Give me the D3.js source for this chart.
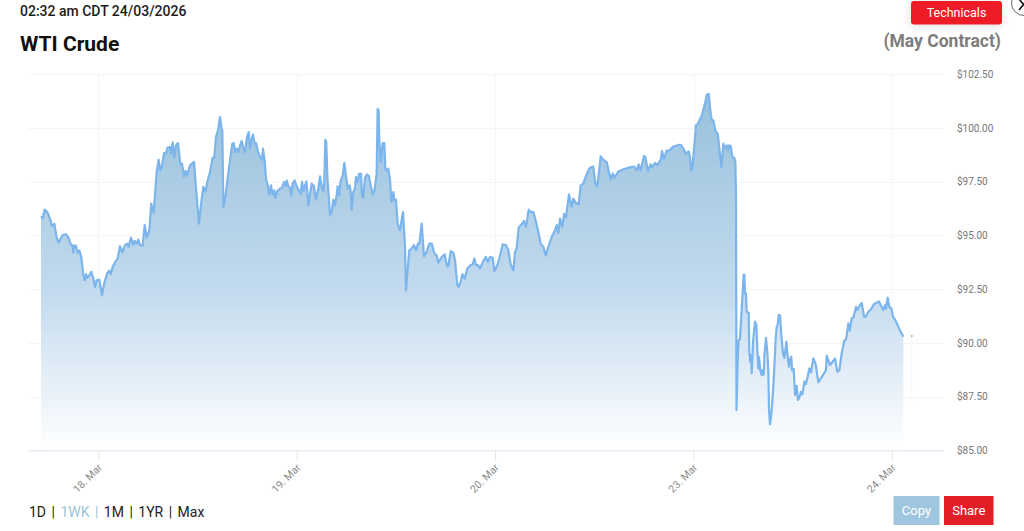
<!DOCTYPE html>
<html>
<head>
<meta charset="utf-8">
<script src="https://cdn.jsdelivr.net/npm/d3@7"></script>
<style>
  html, body { margin: 0; padding: 0; background: #fff; overflow: hidden; }
  svg { display: block; font-family: Roboto, sans-serif; }
</style>
</head>
<body>
<div id="my_dataviz"></div>
<script>
// hours of trading time counted from the 18. Mar tick (one session = 24)
var hours = [
  -6.93,-6.73,-6.49,-6.25,-6.04,-5.76,-5.60,-5.32,-5.04,-4.79,-4.55,-4.31,-3.91,-3.62,-3.34,-3.14,-3.02,-2.90,-2.70,-2.50,
  -2.29,-2.05,-1.81,-1.65,-1.49,-1.33,-1.08,-0.84,-0.60,-0.40,-0.20,0.12,0.45,0.69,1.09,1.33,1.50,1.74,2.06,2.34,
  2.62,2.91,3.23,3.51,3.67,3.95,4.24,4.40,4.64,4.84,5.04,5.37,5.61,5.85,6.17,6.41,6.70,7.06,7.30,7.50,
  7.70,7.95,8.19,8.35,8.67,8.79,9.00,9.20,9.40,9.64,9.92,10.12,10.37,10.53,10.73,11.09,11.58,11.82,12.18,12.42,
  12.70,12.95,13.19,13.51,13.83,14.03,14.24,14.48,14.72,14.92,15.00,15.13,15.37,15.61,15.85,16.09,16.21,16.37,16.58,16.74,
  16.94,17.14,17.34,17.54,17.75,17.99,18.19,18.35,18.51,18.71,18.92,19.08,19.32,19.56,19.80,19.92,20.12,20.29,20.49,20.69,
  20.89,21.09,21.29,21.42,21.66,21.98,22.22,22.46,22.62,22.79,22.99,23.19,23.35,23.51,23.75,23.99,24.24,24.48,24.64,24.84,
  25.00,25.17,25.29,25.41,25.61,25.81,26.09,26.33,26.58,26.82,27.02,27.22,27.34,27.46,27.58,27.71,27.91,28.03,28.23,28.43,
  28.63,28.83,28.95,29.12,29.32,29.56,29.76,29.96,30.16,30.41,30.53,30.65,30.85,31.05,31.17,31.37,31.54,31.78,31.90,32.06,
  32.26,32.50,32.75,32.95,33.19,33.43,33.67,33.79,33.91,33.99,34.16,34.40,34.60,34.72,34.88,35.08,35.29,35.45,35.69,35.81,
  36.01,36.21,36.49,36.66,36.86,37.10,37.22,37.38,37.62,37.71,38.19,38.43,38.67,38.83,39.12,39.40,39.72,40.04,40.33,40.65,
  40.93,41.13,41.54,41.90,42.18,42.34,42.63,42.95,43.15,43.43,43.59,43.83,44.04,44.32,44.64,45.04,45.29,45.49,45.69,45.93,
  46.17,46.58,46.90,47.10,47.38,47.71,47.91,48.27,48.51,48.92,49.32,49.60,49.88,50.21,50.41,50.61,50.85,51.21,51.50,51.74,
  52.06,52.30,52.63,52.95,53.27,53.51,53.84,54.12,54.44,54.84,55.25,55.45,55.65,55.85,56.13,56.34,56.58,56.94,57.26,57.46,
  57.79,58.11,58.35,58.67,58.87,59.28,59.48,59.88,60.12,60.37,60.77,61.09,61.50,61.98,62.22,62.46,62.91,63.51,64.32,64.80,
  65.12,65.36,65.61,66.01,66.17,66.50,66.82,67.02,67.34,67.62,68.07,68.19,68.43,68.75,68.95,69.56,70.28,70.45,70.77,71.09,
  71.42,71.58,71.74,71.90,72.10,72.30,72.55,72.79,72.99,73.19,73.39,73.59,73.84,74.00,74.20,74.40,74.64,74.93,75.13,75.37,
  75.61,75.85,76.01,76.18,76.30,76.50,76.70,76.94,77.06,77.14,77.20,77.34,77.46,77.62,77.83,78.07,78.15,78.23,78.35,78.43,
  78.67,78.75,78.87,78.95,79.04,79.20,79.44,79.60,79.72,79.84,79.92,80.08,80.24,80.37,80.49,80.57,80.77,80.93,81.05,81.13,
  81.25,81.41,81.62,81.78,81.94,82.06,82.18,82.30,82.46,82.62,82.83,82.99,83.11,83.23,83.39,83.55,83.71,83.83,83.91,84.12,
  84.28,84.48,84.64,84.84,85.00,85.17,85.41,85.57,85.81,86.01,86.21,86.49,86.78,87.10,88.03,88.11,88.51,89.12,89.40,89.64,
  89.92,90.25,90.45,90.73,90.89,91.13,91.34,91.66,91.82,92.06,92.34,92.63,92.83,93.15,93.55,93.83,94.16,94.44,94.76,94.96,
  95.17,95.29,95.49,95.69,95.93,96.17,96.38,96.86,97.38
];
var prices = [
  95.88,95.79,96.19,96.11,95.97,95.67,95.42,95.54,94.89,94.66,94.85,95.01,95.05,94.89,94.58,94.54,94.19,94.52,94.52,94.18,
  94.30,93.96,93.14,92.91,93.19,93.02,93.14,93.30,92.99,92.60,92.91,92.94,92.21,92.73,93.25,93.35,93.19,93.53,93.76,93.92,
  94.49,94.21,94.54,94.61,94.46,94.89,94.54,94.74,94.61,94.80,94.54,94.52,95.48,94.89,95.23,96.47,96.04,97.94,98.51,98.02,
  98.21,98.82,98.82,99.07,99.10,98.79,99.32,98.61,99.18,99.29,98.33,98.33,97.74,97.99,97.79,98.25,98.41,97.17,95.54,96.40,
  97.25,97.02,97.48,97.94,98.61,98.61,99.57,99.91,100.50,99.95,99.88,96.32,96.78,97.55,98.25,98.95,99.26,99.29,98.87,99.03,
  98.87,99.18,99.38,99.10,98.87,99.57,99.80,99.03,99.41,99.68,99.26,99.29,98.87,98.64,98.51,99.03,98.48,97.63,97.32,96.89,
  97.32,96.89,97.09,96.73,97.06,97.17,97.21,97.48,97.28,97.55,97.28,97.21,96.86,97.40,97.55,97.28,97.09,96.93,97.48,97.06,
  97.32,97.51,97.01,96.39,96.93,97.40,97.28,96.66,97.09,97.74,97.24,97.06,97.55,99.44,99.33,97.71,96.63,95.93,96.08,96.66,
  96.39,96.86,97.28,96.86,97.55,97.79,98.36,97.79,97.17,97.32,97.01,96.19,97.01,97.17,97.71,97.48,97.86,97.86,96.86,96.75,
  97.68,97.83,97.74,97.32,96.89,97.12,97.86,100.88,100.81,99.41,98.41,99.29,99.29,98.10,98.02,98.10,97.55,96.55,97.01,96.63,
  96.66,95.54,95.23,95.62,96.08,94.46,92.44,93.22,94.30,94.30,94.54,94.30,94.61,94.61,95.54,94.03,94.23,94.61,94.61,94.15,
  94.07,93.72,93.99,94.12,93.56,93.56,94.26,94.19,93.84,92.68,92.60,92.83,93.19,92.99,93.45,93.61,93.65,93.92,93.61,93.61,
  93.45,93.81,93.99,93.76,93.99,93.96,93.33,93.61,93.92,94.58,94.54,94.30,93.65,93.37,94.23,94.38,95.36,95.51,95.67,95.39,
  96.19,96.08,96.08,95.62,95.08,94.61,94.46,94.07,94.46,94.92,95.23,95.47,95.11,95.77,95.39,96.00,95.85,96.90,96.32,96.70,
  96.50,96.44,97.32,97.40,97.63,98.02,98.14,98.20,97.40,97.28,98.67,98.51,98.40,97.59,97.87,97.68,97.97,98.07,98.16,98.20,
  98.02,98.30,98.02,98.69,98.64,97.99,98.30,98.17,98.36,98.27,98.56,98.92,98.56,98.95,98.90,99.13,99.21,99.21,99.03,98.79,
  98.90,98.64,98.02,98.28,99.18,100.11,100.19,100.42,100.55,100.85,101.12,101.53,101.58,100.91,100.34,100.34,99.88,99.72,99.03,98.17,
  99.26,99.03,99.18,98.95,99.18,99.15,98.64,98.59,98.41,96.86,86.87,89.12,90.12,90.17,91.60,93.17,93.17,92.29,92.29,91.44,
  91.41,89.58,89.12,89.43,88.58,90.05,90.98,90.85,89.74,88.81,89.35,88.73,88.50,88.73,88.53,89.40,90.23,89.58,88.65,86.95,
  86.21,86.64,87.73,88.89,90.20,90.74,90.82,91.29,91.29,90.36,89.50,89.30,89.66,90.05,89.35,88.89,89.27,89.35,88.73,88.78,
  87.57,88.00,87.34,87.49,87.72,87.60,88.19,88.07,88.42,88.81,88.62,89.27,89.00,88.16,88.73,89.40,88.96,89.27,88.65,88.73,
  89.50,90.12,90.15,90.90,90.56,91.13,91.18,91.67,91.52,91.70,91.86,91.21,91.21,91.44,91.59,91.80,91.86,91.92,91.67,91.52,
  91.75,91.59,92.10,91.67,91.59,91.18,91.08,90.67,90.28
];
// lone point after the gap at the end of the series
var lastHour = [98.4];
var lastPrice = [90.31];

var yTicks = [85, 87.5, 90, 92.5, 95, 97.5, 100, 102.5];
var xTicks = [0, 24, 48, 72, 96];
var xLabels = ["18. Mar", "19. Mar", "20. Mar", "23. Mar", "24. Mar"];
var navItems = ["1D", "1WK", "1M", "1YR", "Max"];

var width = 1024, height = 531;
var data = hours.map(function (h, i) { return {h: h, p: prices[i]}; });

var svg = d3.select("#my_dataviz")
  .append("svg")
  .attr("width", width)
  .attr("height", height);

var defs = svg.append("defs");

var x = d3.scaleLinear().domain([-8.504, 102.3]).range([28, 944]);
var y = d3.scaleLinear().domain([85, 102.5]).range([450.3, 74]);

// fill fades out towards the x axis
var grad = defs.append("linearGradient")
  .attr("id", "fade")
  .attr("gradientUnits", "userSpaceOnUse")
  .attr("x1", 0).attr("x2", 0)
  .attr("y1", y(101.6)).attr("y2", y(85));
grad.append("stop").attr("offset", 0).attr("stop-color", "#98c1dc");
grad.append("stop").attr("offset", 0.55).attr("stop-color", "#c2daee");
grad.append("stop").attr("offset", 1).attr("stop-color", "#ffffff");

var shadow = defs.append("filter").attr("id", "soft")
  .attr("x", "-20%").attr("y", "-50%").attr("width", "140%").attr("height", "200%");
shadow.append("feDropShadow")
  .attr("dx", 0).attr("dy", 1).attr("stdDeviation", 4)
  .attr("flood-color", "#000").attr("flood-opacity", 0.14);

// gridlines
svg.append("g").selectAll("line")
  .data(yTicks.slice(1))
  .enter().append("line")
  .attr("x1", 28).attr("x2", 944)
  .attr("y1", function (d) { return Math.round(y(d)) + 0.5; })
  .attr("y2", function (d) { return Math.round(y(d)) + 0.5; })
  .style("stroke", "#f5f5f5");

svg.append("g").selectAll("line")
  .data(xTicks)
  .enter().append("line")
  .attr("x1", function (d) { return Math.round(x(d)) + 0.5; })
  .attr("x2", function (d) { return Math.round(x(d)) + 0.5; })
  .attr("y1", y(102.5)).attr("y2", y(85))
  .style("stroke", "#f5f5f5");

// area + line
var area = d3.area()
  .x(function (d) { return x(d.h); })
  .y0(y(85))
  .y1(function (d) { return y(d.p); });

var line = d3.line()
  .x(function (d) { return x(d.h); })
  .y(function (d) { return y(d.p); });

svg.append("path").datum(data)
  .attr("d", area)
  .style("fill", "url(#fade)");

svg.append("path").datum(data)
  .attr("d", line)
  .style("fill", "none")
  .style("stroke", "#7cb5ec")
  .style("stroke-width", 2.2)
  .style("stroke-linejoin", "round");

// lone last point with its faint column
svg.append("line")
  .attr("x1", x(lastHour[0])).attr("x2", x(lastHour[0]))
  .attr("y1", y(lastPrice[0])).attr("y2", y(87.3))
  .style("stroke", "#f3f7fb");
svg.append("circle")
  .attr("cx", x(lastHour[0])).attr("cy", y(lastPrice[0])).attr("r", 1)
  .style("fill", "#7cb5ec");

// x axis
var xAxis = svg.append("g")
  .attr("transform", "translate(0," + y(85) + ")")
  .call(d3.axisBottom(x)
    .tickValues(xTicks)
    .tickSize(10)
    .tickFormat(function (d, i) { return xLabels[i]; }));
xAxis.select(".domain").style("stroke", "#dbe3f1").attr("d", "M28,0.5H944");
xAxis.selectAll(".tick line").style("stroke", "#e6e6e6");
xAxis.selectAll(".tick text")
  .style("font-family", "Roboto, sans-serif")
  .style("font-size", "10.5px")
  .style("fill", "#8a8a8a")
  .style("text-anchor", "end")
  .attr("x", 0).attr("y", 0).attr("dy", 0)
  .attr("transform", "translate(4,18) rotate(-45)");

// y axis
var yAxis = svg.append("g")
  .attr("transform", "translate(957,0.2)")
  .call(d3.axisRight(y)
    .tickValues(yTicks)
    .tickSize(0)
    .tickPadding(0)
    .tickFormat(function (d) { return "$" + d3.format(".2f")(d); }));
yAxis.select(".domain").remove();
yAxis.selectAll("text")
  .style("font-family", "Roboto, sans-serif")
  .style("font-size", "10px")
  .style("fill", "#777");

// header
svg.append("text")
  .attr("x", 20).attr("y", 16)
  .style("font-size", "14px").style("font-weight", 500)
  .style("fill", "#1c1c1c")
  .text("02:32 am CDT 24/03/2026");

svg.append("text")
  .attr("x", 20).attr("y", 51)
  .style("font-size", "21px").style("font-weight", 700)
  .style("fill", "#111")
  .text("WTI Crude");

svg.append("text")
  .attr("x", 1001).attr("y", 47)
  .attr("text-anchor", "end")
  .style("font-size", "17.5px").style("font-weight", 700)
  .style("fill", "#7d7d7d")
  .text("(May Contract)");

function button(bx, by, w, h, r, color, label, size, filter) {
  var g = svg.append("g");
  var rect = g.append("rect")
    .attr("x", bx).attr("y", by).attr("width", w).attr("height", h).attr("rx", r)
    .style("fill", color);
  if (filter) rect.attr("filter", filter);
  g.append("text")
    .attr("x", bx + w / 2).attr("y", by + h / 2 + size * 0.35)
    .attr("text-anchor", "middle")
    .style("font-size", size + "px")
    .style("fill", "#fff")
    .text(label);
}

button(911, 1, 91, 23.5, 3, "#ee1c25", "Technicals", 12.5, "url(#soft)");
button(893.5, 496, 46, 29, 0, "#9fc6df", "Copy", 13);
button(944, 496, 49.5, 29, 0, "#e21f26", "Share", 13);

// close button, cut by the window edge
svg.append("circle")
  .attr("cx", 1024).attr("cy", 3).attr("r", 12.5)
  .style("fill", "#fff").style("stroke", "#666");
svg.append("path")
  .attr("d", "M1019,-1L1028,10M1028,-1L1019,10")
  .style("stroke", "#111").style("stroke-width", 1.6).style("fill", "none");

// range links
var nav = svg.append("text")
  .attr("x", 29).attr("y", 517)
  .style("font-size", "14px")
  .style("word-spacing", "2px")
  .style("fill", "#222");
navItems.forEach(function (n, i) {
  var active = n === "1WK";
  nav.append("tspan")
    .style("fill", active ? "#9cc4d8" : "#222")
    .text(n + (i < navItems.length - 1 ? " | " : ""));
});
</script>
</body>
</html>
